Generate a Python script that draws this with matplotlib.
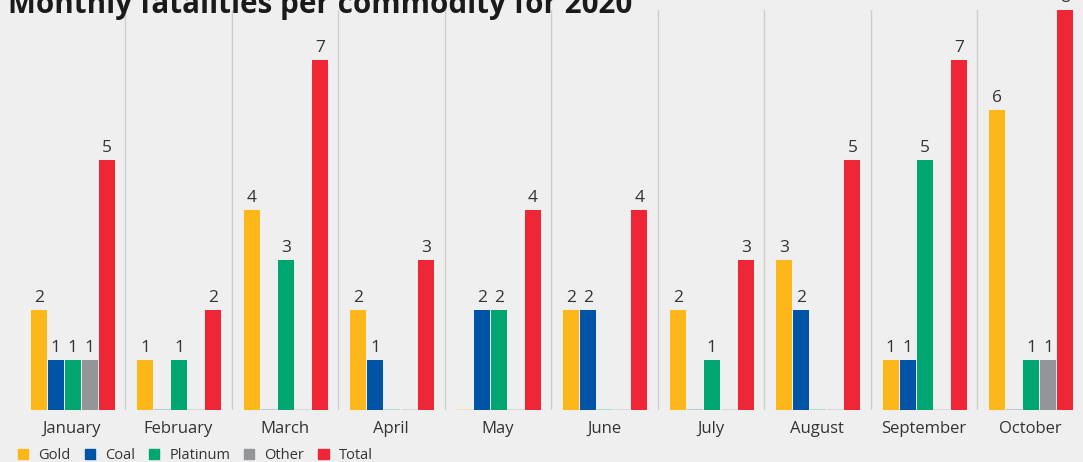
import matplotlib.pyplot as plt
import numpy as np
from matplotlib.patches import Patch

months = ["January", "February", "March", "April", "May", "June",
          "July", "August", "September", "October"]
gold = [2, 1, 4, 2, 0, 2, 2, 3, 1, 6]
coal = [1, 0, 0, 1, 2, 2, 0, 2, 1, 0]
platinum = [1, 1, 3, 0, 2, 0, 1, 0, 5, 1]
other = [1, 0, 0, 0, 0, 0, 0, 0, 0, 1]
total = [5, 2, 7, 3, 4, 4, 3, 5, 7, 8]

series = [("Gold", gold, "#FDB71A"), ("Coal", coal, "#0054A6"),
          ("Platinum", platinum, "#00A66F"), ("Other", other, "#939598"),
          ("Total", total, "#EE2636")]

plt.rcParams['font.family'] = ['Open Sans', 'DejaVu Sans']
bg = "#efefef"
fig = plt.figure(figsize=(10.83, 4.62), dpi=100, facecolor=bg)
ax = fig.add_axes([18.5 / 1083, 52 / 462, 1065 / 1083, 400 / 462])
ax.set_facecolor(bg)

x = np.arange(len(months))
w = 0.15
step = 0.16
for i, (name, vals, col) in enumerate(series):
    pos = x + (i - 2) * step + 0.01
    for p, v in zip(pos, vals):
        if v == 0:
            ax.bar(p, 0.03, width=w, color=col, alpha=0.25)
        else:
            ax.bar(p, v, width=w, color=col)
            ax.text(p, v + 0.08, str(v), ha='center', va='bottom',
                    fontsize=12.5, color='#333333')

for k in range(len(months) - 1):
    ax.axvline(k + 0.5, color='#cfcfcf', lw=1, zorder=0)

ax.set_xlim(-0.5, len(months) - 0.5)
ax.set_ylim(0, 8)
ax.set_xticks(x)
ax.set_xticklabels(months, fontsize=12, color='#333333')
ax.tick_params(axis='x', length=0, pad=8)
ax.set_yticks([])
for s in ax.spines.values():
    s.set_visible(False)

# title is cut off at the top in the original
fig.text(8 / 1083, 1 - 12.5 / 462, "Monthly fatalities per commodity for 2020",
         fontsize=21.3, fontweight='bold', color='#1a1a1a', va='baseline',
         ha='left')

handles = [Patch(color=c, label=n) for n, _, c in series]
fig.legend(handles=handles, loc='lower left', bbox_to_anchor=(5 / 1083, -0.03),
           ncol=5, frameon=False, fontsize=10.5, handlelength=0.7,
           handleheight=0.7, handletextpad=0.7, columnspacing=0.95,
           labelcolor='#333333')

fig.savefig("out.png", dpi=100, facecolor=bg)
